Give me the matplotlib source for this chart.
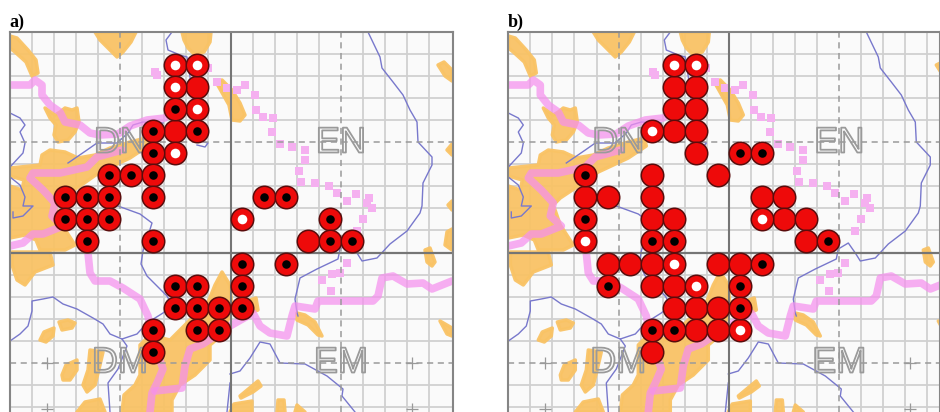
import matplotlib
matplotlib.use("Agg")
import matplotlib.pyplot as plt
import matplotlib.patheffects as pe
from matplotlib.patches import Polygon

# ---- map features, in map units shared by both panels ----
orange_areas = [
    [(10,36),(17,38),(28,50),(36,60),(38,73),(32,76),(26,62),(15,52),(10,48)],
    [(95,32),(136,32),(131,42),(123,52),(117,57),(108,48),(100,40)],
    [(182,32),(211,32),(210,42),(204,52),(195,55),(188,48),(184,40)],
    [(45,108),(55,115),(60,112),(65,108),(72,110),(77,108),(79,122),(75,132),(68,140),(58,142),(54,135),(56,125),(50,118)],
    [(10,168),(40,165),(42,155),(50,150),(65,152),(78,158),(95,155),(110,148),(130,142),(146,138),(148,146),(130,158),(100,172),(80,186),(62,198),(55,205),(62,225),(75,245),(65,250),(40,250),(36,240),(25,235),(10,238),(10,186),(22,190),(24,180),(10,176)],
    [(12,252),(50,252),(53,265),(35,272),(25,285),(17,280),(12,265)],
    [(230,285),(232,310),(222,335),(210,345),(210,360),(195,375),(180,385),(172,400),(172,412),(122,412),(124,395),(135,385),(140,375),(140,345),(150,335),(170,340),(180,330),(190,320),(205,310),(215,285),(222,272)],
    [(59,322),(68,320),(75,323),(72,328),(62,330)],
    [(40,340),(44,332),(54,328),(53,336),(46,342)],
    [(62,375),(66,365),(77,360),(77,370),(70,380),(63,380)],
    [(90,350),(103,352),(100,365),(95,385),(87,392),(83,385),(88,370)],
    [(77,412),(85,402),(100,399),(105,412)],
    [(216,82),(222,80),(232,90),(240,103),(245,115),(240,121),(232,120),(229,105)],
    [(438,65),(444,62),(452,70),(452,81),(445,76)],
    [(447,150),(452,144),(452,155)],
    [(448,205),(452,201),(452,210)],
    [(447,232),(452,229),(452,250),(445,245)],
    [(425,250),(430,248),(435,262),(432,266),(427,262)],
    [(440,321),(452,328),(452,336),(447,334)],
    [(297,313),(305,315),(315,322),(322,336),(318,335),(308,325),(297,320)],
    [(240,396),(258,381),(261,386),(253,392),(241,398)],
    [(230,412),(234,404),(252,401),(252,412)],
    [(277,412),(278,400),(284,400),(285,412)],
    [(295,412),(297,405),(305,412)],
    [(250,300),(256,298),(258,310),(252,312)],
]
pink_lines = [
    [(10,85),(30,85),(35,80),(42,85),(42,95),(50,105),(60,112),(65,122),(80,125),(90,133),(100,135),(118,134),(130,126),(147,120),(165,118)],
    [(122,150),(97,157),(87,167),(60,173),(33,173),(30,178),(43,190),(55,203),(52,216),(63,226),(43,234),(33,234),(23,243),(10,246)],
    [(88,253),(90,273),(95,281),(110,281),(123,288),(140,299),(148,316),(153,340),(163,369),(157,383),(152,393),(150,412)],
    [(155,391),(182,388),(185,366),(190,349),(203,344),(230,326),(253,313),(260,326),(270,333),(287,336),(292,316),(295,306),(315,309),(318,301),(373,301),(378,296),(382,278),(393,276),(407,284),(423,283),(432,289),(452,281)],
]
pink_dots_x = [155,157,208,217,227,237,245,255,256,263,273,272,280,292,305,305,299,301,315,329,337,347,356,369,367,372,363,357,347,340,332,322,331]
pink_dots_y = [72,75,68,82,88,90,85,95,110,117,118,132,144,147,150,160,171,182,183,186,193,201,194,198,203,208,219,231,263,273,274,280,291]
blue_lines = [
    [(172,32),(166,40),(168,50),(180,55),(187,57),(192,90),(195,130),(197,140),(208,143),(205,147),(197,145)],
    [(68,163),(87,150),(97,143),(117,143),(128,133),(133,125),(143,122),(163,123)],
    [(10,113),(20,118),(25,125),(20,132),(25,143),(23,153),(10,167)],
    [(10,177),(20,185),(25,197),(23,206),(33,206),(23,216),(13,218),(13,212)],
    [(118,206),(140,214),(152,223),(147,239),(143,251),(141,264),(147,276),(160,289),(167,296),(172,305),(163,313),(147,323),(137,334),(122,339),(110,334),(103,324),(93,318),(77,309),(63,304),(53,297),(43,299),(32,301),(32,311),(28,326),(20,334),(10,341)],
    [(122,339),(127,346),(118,369),(108,383),(110,412)],
    [(368,32),(380,57),(382,68),(393,82),(403,95),(410,110),(417,122),(418,142),(432,157),(432,165),(423,183),(422,206),(420,213),(407,231),(390,244),(377,258),(362,261),(357,253),(350,243),(340,249),(338,259),(317,269),(300,278),(295,299),(297,313),(298,316)],
    [(230,374),(240,371),(250,358),(260,342),(270,344),(280,363),(305,364),(327,376),(343,389),(342,396),(355,412)],
    [(230,383),(227,412)],
]
plus_x = [47,412,47,412]
plus_y = [363,363,409,409]
sheet_names = ["DN","EN","DM","EM"]
sheet_x = [120,341,120,341]
sheet_y = [143,143,363,363]

# ---- occupied grid cells: column, row ----
a_plain_col = [8,7,13]
a_plain_row = [2,4,9]
a_white_col = [7,8,7,8,7,10]
a_white_row = [1,1,2,3,5,8]
a_black_col = [7,6,8,6,4,5,6,2,3,4,6,11,12,2,3,4,14,3,6,14,15,10,12,7,8,10,7,8,9,10,6,8,9,6]
a_black_row = [3,4,4,5,6,6,6,7,7,7,7,7,7,8,8,8,8,9,9,9,9,10,10,11,11,11,12,12,12,12,13,13,13,14]

b_plain_col = [7,8,7,8,7,8,8,6,9,3,4,6,11,12,6,7,12,13,13,4,5,6,9,10,6,7,7,8,9,8,9,6]
b_plain_row = [2,2,3,3,4,4,5,6,6,7,7,7,7,7,8,8,8,8,9,10,10,10,10,10,11,11,12,12,12,13,13,14]
b_white_col = [7,8,6,11,3,7,8,10]
b_white_row = [1,1,4,8,9,10,11,13]
b_black_col = [10,11,3,3,6,7,14,11,4,10,10,6,7]
b_black_row = [5,5,6,8,9,9,9,10,11,11,12,13,13]

panel_labels = ["a)","b)"]

CELL = 22.05
X0, Y0 = 10, 32
W, H = 940, 412

fig = plt.figure(figsize=(9.4, 4.12), dpi=100, facecolor="white")


def draw_panel(left_px, width_px, plain, white, black, label):
    ax = fig.add_axes([left_px / W, 0, width_px / W, (H - Y0) / H])
    ax.set_xlim(X0, X0 + width_px)
    ax.set_ylim(H, Y0)
    ax.set_facecolor("#fafafa")
    ax.set_xticks([])
    ax.set_yticks([])
    for name, spine in ax.spines.items():
        spine.set_visible(name in ("top", "left", "right"))
        spine.set_color("#858585")
        spine.set_linewidth(1.5)
        spine.set_zorder(6)

    for k in range(1, 20):
        x = X0 + k * CELL
        if k in (5, 15):
            ax.axvline(x, color="#9a9a9a", lw=1.1, ls=(0, (4, 3)), zorder=3)
        elif k == 10:
            ax.axvline(x, color="#757575", lw=1.5, zorder=3)
        else:
            ax.axvline(x, color="#d0d0d0", lw=1.3, zorder=1)
    for k in range(1, 18):
        y = Y0 + k * CELL
        if k in (5, 15):
            ax.axhline(y, color="#9a9a9a", lw=1.1, ls=(0, (4, 3)), zorder=3)
        elif k == 10:
            ax.axhline(y, color="#757575", lw=1.6, zorder=3)
        else:
            ax.axhline(y, color="#d0d0d0", lw=1.3, zorder=1)

    for pts in orange_areas:
        ax.add_patch(Polygon(pts, closed=True, facecolor="#f9c365", edgecolor="#f9c365",
                             lw=2.5, joinstyle="round", alpha=0.95, zorder=2))
    for pts in blue_lines:
        ax.plot([p[0] for p in pts], [p[1] for p in pts], color="#7878cc", lw=1.0, zorder=2.5)
    for pts in pink_lines:
        ax.plot([p[0] for p in pts], [p[1] for p in pts], color="#f590ee", lw=5.5, alpha=0.72,
                solid_capstyle="round", solid_joinstyle="round", zorder=2.7)
    ax.scatter(pink_dots_x, pink_dots_y, marker="s", s=26, color="#f5b0f0", linewidths=0, zorder=2.7)
    ax.scatter(plus_x, plus_y, marker="+", s=70, color="#999999", linewidths=0.9, zorder=3)

    for name, x, y in zip(sheet_names, sheet_x, sheet_y):
        ax.text(x, y, name, color="none", fontsize=26,
                family="Liberation Sans",
                ha="center", va="center", zorder=4,
                path_effects=[pe.Stroke(linewidth=1.3, foreground="#9a9a9a")])

    def cx(cols):
        return [X0 + (c + 0.5) * CELL for c in cols]

    def cy(rows):
        return [Y0 + (r + 0.5) * CELL for r in rows]

    all_cols = plain[0] + white[0] + black[0]
    all_rows = plain[1] + white[1] + black[1]
    ax.scatter(cx(all_cols), cy(all_rows), s=262, color="#ee0a0a", edgecolors="#5a0c0c",
               linewidths=1.1, zorder=5)
    ax.scatter(cx(white[0]), cy(white[1]), s=48, color="white", linewidths=0, zorder=5.5)
    ax.scatter(cx(black[0]), cy(black[1]), s=38, color="black", linewidths=0, zorder=5.5)

    fig.text(left_px / W - 0.0005, 1 - 27 / H, label, fontsize=13, fontweight="bold",
             family="Liberation Serif", ha="left", va="baseline", color="black")


draw_panel(10, 442.5, (a_plain_col, a_plain_row), (a_white_col, a_white_row),
           (a_black_col, a_black_row), panel_labels[0])
draw_panel(508.3, 431.7, (b_plain_col, b_plain_row), (b_white_col, b_white_row),
           (b_black_col, b_black_row), panel_labels[1])

fig.savefig("out.png", dpi=100)
